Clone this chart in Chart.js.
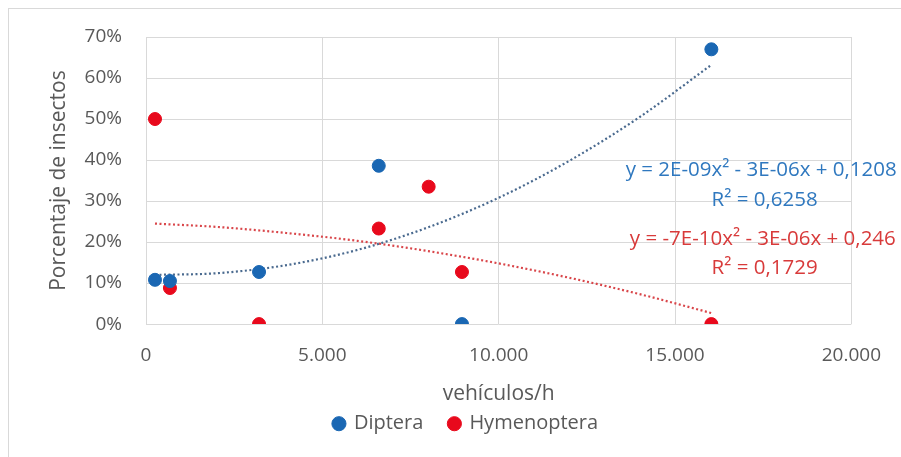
<!DOCTYPE html>
<html>
<head>
<meta charset="utf-8">
<script src="https://cdn.jsdelivr.net/npm/chart.js@4.4.0/dist/chart.umd.min.js"></script>
<style>
  html, body { margin: 0; padding: 0; background: #fff; }
  #wrap { width: 901px; height: 457px; position: relative; }
</style>
</head>
<body>
<div id="wrap"><canvas id="scatterChart" width="901" height="457"></canvas></div>
<script>
// vehicles per hour at each site
const dipteraX = [255, 679, 3205, 6600, 8959, 16031];
const dipteraY = [10.8, 10.5, 12.7, 38.6, 0, 67];
const hymenopteraX = [255, 679, 3205, 6600, 8015, 8959, 16031];
const hymenopteraY = [50, 8.8, 0, 23.3, 33.5, 12.7, 0];

// dotted trend lines
const trendX = [255, 2000, 4000, 6000, 8000, 10000, 12000, 14000, 16031];
const dipteraTrend = [12.0, 12.4, 14.4, 18.1, 23.6, 30.8, 39.8, 50.5, 63.2];
const hymenopteraTrend = [24.5, 23.7, 22.2, 20.3, 17.8, 14.8, 11.3, 7.3, 2.7];

const xTicks = [0, 5000, 10000, 15000, 20000];
const yTicks = [0, 10, 20, 30, 40, 50, 60, 70];

const dipteraEq = ['y = 2E-09x² - 3E-06x + 0,1208', 'R² = 0,6258'];
const hymenopteraEq = ['y = -7E-10x² - 3E-06x + 0,246', 'R² = 0,1729'];

const blue = '#1a67b3';
const red = '#e8091c';
const textGray = '#595959';
const fontFamily = '"Open Sans", "Noto Sans", sans-serif';

function toPoints(xs, ys) {
  return xs.map((x, i) => ({ x: x, y: ys[i] }));
}

function formatThousands(v) {
  return v.toString().replace(/\B(?=(\d{3})+(?!\d))/g, '.');
}

const frameAndLabels = {
  id: 'frameAndLabels',
  beforeDraw(chart) {
    const ctx = chart.ctx;
    ctx.save();
    ctx.strokeStyle = '#d9d9d9';
    ctx.lineWidth = 1;
    ctx.strokeRect(8.5, 8.5, 1200, 1200);
    ctx.restore();
  },
  afterDatasetsDraw(chart) {
    const ctx = chart.ctx;
    const xs = chart.scales.x;
    const ys = chart.scales.y;
    ctx.save();
    ctx.font = '20.5px ' + fontFamily;
    ctx.textBaseline = 'middle';

    ctx.fillStyle = '#2f78bf';
    ctx.textAlign = 'left';
    ctx.fillText(dipteraEq[0], xs.getPixelForValue(13600), ys.getPixelForValue(37.6));
    ctx.textAlign = 'center';
    ctx.fillText(dipteraEq[1], xs.getPixelForValue(17540), ys.getPixelForValue(30.1));

    ctx.fillStyle = '#d83a3a';
    ctx.textAlign = 'left';
    ctx.fillText(hymenopteraEq[0], xs.getPixelForValue(13720), ys.getPixelForValue(20.6));
    ctx.textAlign = 'center';
    ctx.fillText(hymenopteraEq[1], xs.getPixelForValue(17540), ys.getPixelForValue(13.7));
    ctx.restore();
  }
};

const ctx = document.getElementById('scatterChart').getContext('2d');

const chart = new Chart(ctx, {
  type: 'scatter',
  data: {
    datasets: [
      {
        label: 'Diptera',
        data: toPoints(dipteraX, dipteraY),
        backgroundColor: blue,
        borderColor: blue,
        pointRadius: 6.5,
        pointHoverRadius: 6.5,
        order: 1
      },
      {
        label: 'Hymenoptera',
        data: toPoints(hymenopteraX, hymenopteraY),
        backgroundColor: red,
        borderColor: red,
        pointRadius: 6.5,
        pointHoverRadius: 6.5,
        order: 1
      },
      {
        label: 'trendDiptera',
        data: toPoints(trendX, dipteraTrend),
        showLine: true,
        borderColor: '#4a6a8f',
        borderWidth: 2.2,
        borderDash: [2, 2.5],
        pointRadius: 0,
        cubicInterpolationMode: 'monotone',
        order: 2
      },
      {
        label: 'trendHymenoptera',
        data: toPoints(trendX, hymenopteraTrend),
        showLine: true,
        borderColor: '#d9464a',
        borderWidth: 2.2,
        borderDash: [2, 2.5],
        pointRadius: 0,
        cubicInterpolationMode: 'monotone',
        order: 2
      }
    ]
  },
  options: {
    responsive: false,
    animation: false,
    layout: {
      padding: { left: 79, right: 48, top: 37, bottom: 13.3 }
    },
    scales: {
      x: {
        type: 'linear',
        min: 0,
        max: 20000,
        afterBuildTicks: function(scale) {
          scale.ticks = xTicks.map(v => ({ value: v }));
        },
        afterFit: function(scale) {
          scale.height = 63.6;
        },
        grid: {
          color: '#d9d9d9',
          drawTicks: false
        },
        border: { display: false },
        ticks: {
          padding: 20,
          color: textGray,
          font: { family: fontFamily, size: 19 },
          callback: function(value) {
            return formatThousands(value);
          }
        },
        title: {
          display: true,
          text: 'vehículos/h',
          color: textGray,
          font: { family: fontFamily, size: 21 },
          padding: { top: 0, bottom: -19.3 }
        }
      },
      y: {
        min: 0,
        max: 70,
        afterBuildTicks: function(scale) {
          scale.ticks = yTicks.map(v => ({ value: v }));
        },
        afterFit: function(scale) {
          scale.width = 67;
        },
        grid: {
          color: '#d9d9d9',
          drawTicks: false
        },
        border: { display: false },
        ticks: {
          padding: 24,
          color: textGray,
          font: { family: fontFamily, size: 19 },
          callback: function(value) {
            return value + '%';
          }
        },
        title: {
          display: true,
          text: 'Porcentaje de insectos',
          color: textGray,
          font: { family: fontFamily, size: 21 },
          padding: { top: -32.6, bottom: 0 }
        }
      }
    },
    plugins: {
      legend: {
        position: 'bottom',
        labels: {
          color: textGray,
          font: { family: fontFamily, size: 20 },
          usePointStyle: true,
          pointStyle: 'circle',
          boxWidth: 10,
          boxHeight: 10,
          padding: 26,
          filter: function(item) {
            return item.text === 'Diptera' || item.text === 'Hymenoptera';
          }
        }
      },
      tooltip: { enabled: false }
    }
  },
  plugins: [frameAndLabels]
});
</script>
</body>
</html>
